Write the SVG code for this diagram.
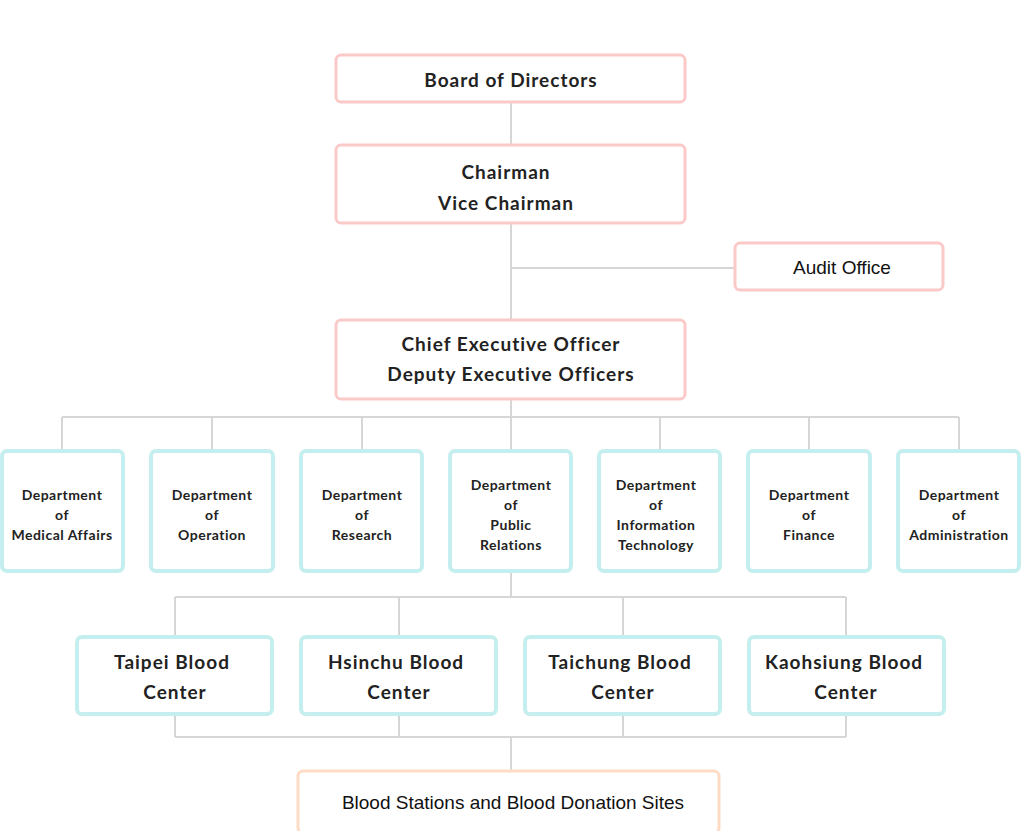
<svg xmlns="http://www.w3.org/2000/svg" width="1021" height="831" viewBox="0 0 1021 831">
<style>
.p{fill:#fff;stroke:#fcc9c9;stroke-width:3}
.c{fill:#fff;stroke:#c5eeee;stroke-width:4}
.o{fill:#fff;stroke:#fddbc4;stroke-width:3}
.t{font-family:Lato,"Open Sans",sans-serif;font-weight:bold;fill:#222;text-anchor:middle;letter-spacing:1px}
.big{font-size:19px}
.sm{font-size:14px;letter-spacing:0.5px}
.a{font-family:"Liberation Sans",Arial,sans-serif;font-size:19px;fill:#111;text-anchor:middle}
#conn path{fill:none;stroke:#d6d6d6;stroke-width:2}
</style>
<rect width="1021" height="831" fill="#fff"/>
<g id="conn"><path d="M511 102V320M511 268H735M511 399V450M62 417H959M62 417V450M212 417V450M362 417V450M660 417V450M809 417V450M959 417V450M511 571V597M175 597H846M175 597V637M399 597V637M623 597V637M846 597V637M175 714V737M399 714V737M623 714V737M846 714V737M175 737H846M511 737V771"/></g>
<g id="board"><rect class="p" x="336" y="55" width="349" height="47" rx="5"/><text class="t big" x="511" y="87">Board of Directors</text></g>
<g id="chair"><rect class="p" x="336" y="145" width="349" height="78" rx="5"/><text class="t big" x="506" y="179">Chairman</text><text class="t big" x="506" y="210">Vice Chairman</text></g>
<g id="audit"><rect class="p" x="735" y="243" width="208" height="47" rx="5"/><text class="a" x="842" y="274">Audit Office</text></g>
<g id="ceo"><rect class="p" x="336" y="320" width="349" height="79" rx="5"/><text class="t big" x="511" y="351">Chief Executive Officer</text><text class="t big" x="511" y="381">Deputy Executive Officers</text></g>
<g id="d1"><rect class="c" x="2" y="451" width="121" height="120" rx="5"/><text class="t sm" x="62" y="500">Department</text><text class="t sm" x="62" y="520">of</text><text class="t sm" x="62" y="540">Medical Affairs</text></g>
<g id="d2"><rect class="c" x="151" y="451" width="122" height="120" rx="5"/><text class="t sm" x="212" y="500">Department</text><text class="t sm" x="212" y="520">of</text><text class="t sm" x="212" y="540">Operation</text></g>
<g id="d3"><rect class="c" x="301" y="451" width="121" height="120" rx="5"/><text class="t sm" x="362" y="500">Department</text><text class="t sm" x="362" y="520">of</text><text class="t sm" x="362" y="540">Research</text></g>
<g id="d4"><rect class="c" x="450" y="451" width="121" height="120" rx="5"/><text class="t sm" x="511" y="490">Department</text><text class="t sm" x="511" y="510">of</text><text class="t sm" x="511" y="530">Public</text><text class="t sm" x="511" y="550">Relations</text></g>
<g id="d5"><rect class="c" x="599" y="451" width="121" height="120" rx="5"/><text class="t sm" x="656" y="490">Department</text><text class="t sm" x="656" y="510">of</text><text class="t sm" x="656" y="530">Information</text><text class="t sm" x="656" y="550">Technology</text></g>
<g id="d6"><rect class="c" x="748" y="451" width="122" height="120" rx="5"/><text class="t sm" x="809" y="500">Department</text><text class="t sm" x="809" y="520">of</text><text class="t sm" x="809" y="540">Finance</text></g>
<g id="d7"><rect class="c" x="898" y="451" width="121" height="120" rx="5"/><text class="t sm" x="959" y="500">Department</text><text class="t sm" x="959" y="520">of</text><text class="t sm" x="959" y="540">Administration</text></g>
<g id="b1"><rect class="c" x="77" y="637" width="195" height="77" rx="5"/><text class="t big" x="172" y="669">Taipei Blood</text><text class="t big" x="175" y="699">Center</text></g>
<g id="b2"><rect class="c" x="301" y="637" width="195" height="77" rx="5"/><text class="t big" x="396" y="669">Hsinchu Blood</text><text class="t big" x="399" y="699">Center</text></g>
<g id="b3"><rect class="c" x="525" y="637" width="195" height="77" rx="5"/><text class="t big" x="620" y="669">Taichung Blood</text><text class="t big" x="623" y="699">Center</text></g>
<g id="b4"><rect class="c" x="749" y="637" width="195" height="77" rx="5"/><text class="t big" x="844" y="669">Kaohsiung Blood</text><text class="t big" x="846" y="699">Center</text></g>
<g id="sites"><rect class="o" x="298" y="771" width="421" height="62" rx="5"/><text class="a" x="513" y="809">Blood Stations and Blood Donation Sites</text></g>
</svg>
